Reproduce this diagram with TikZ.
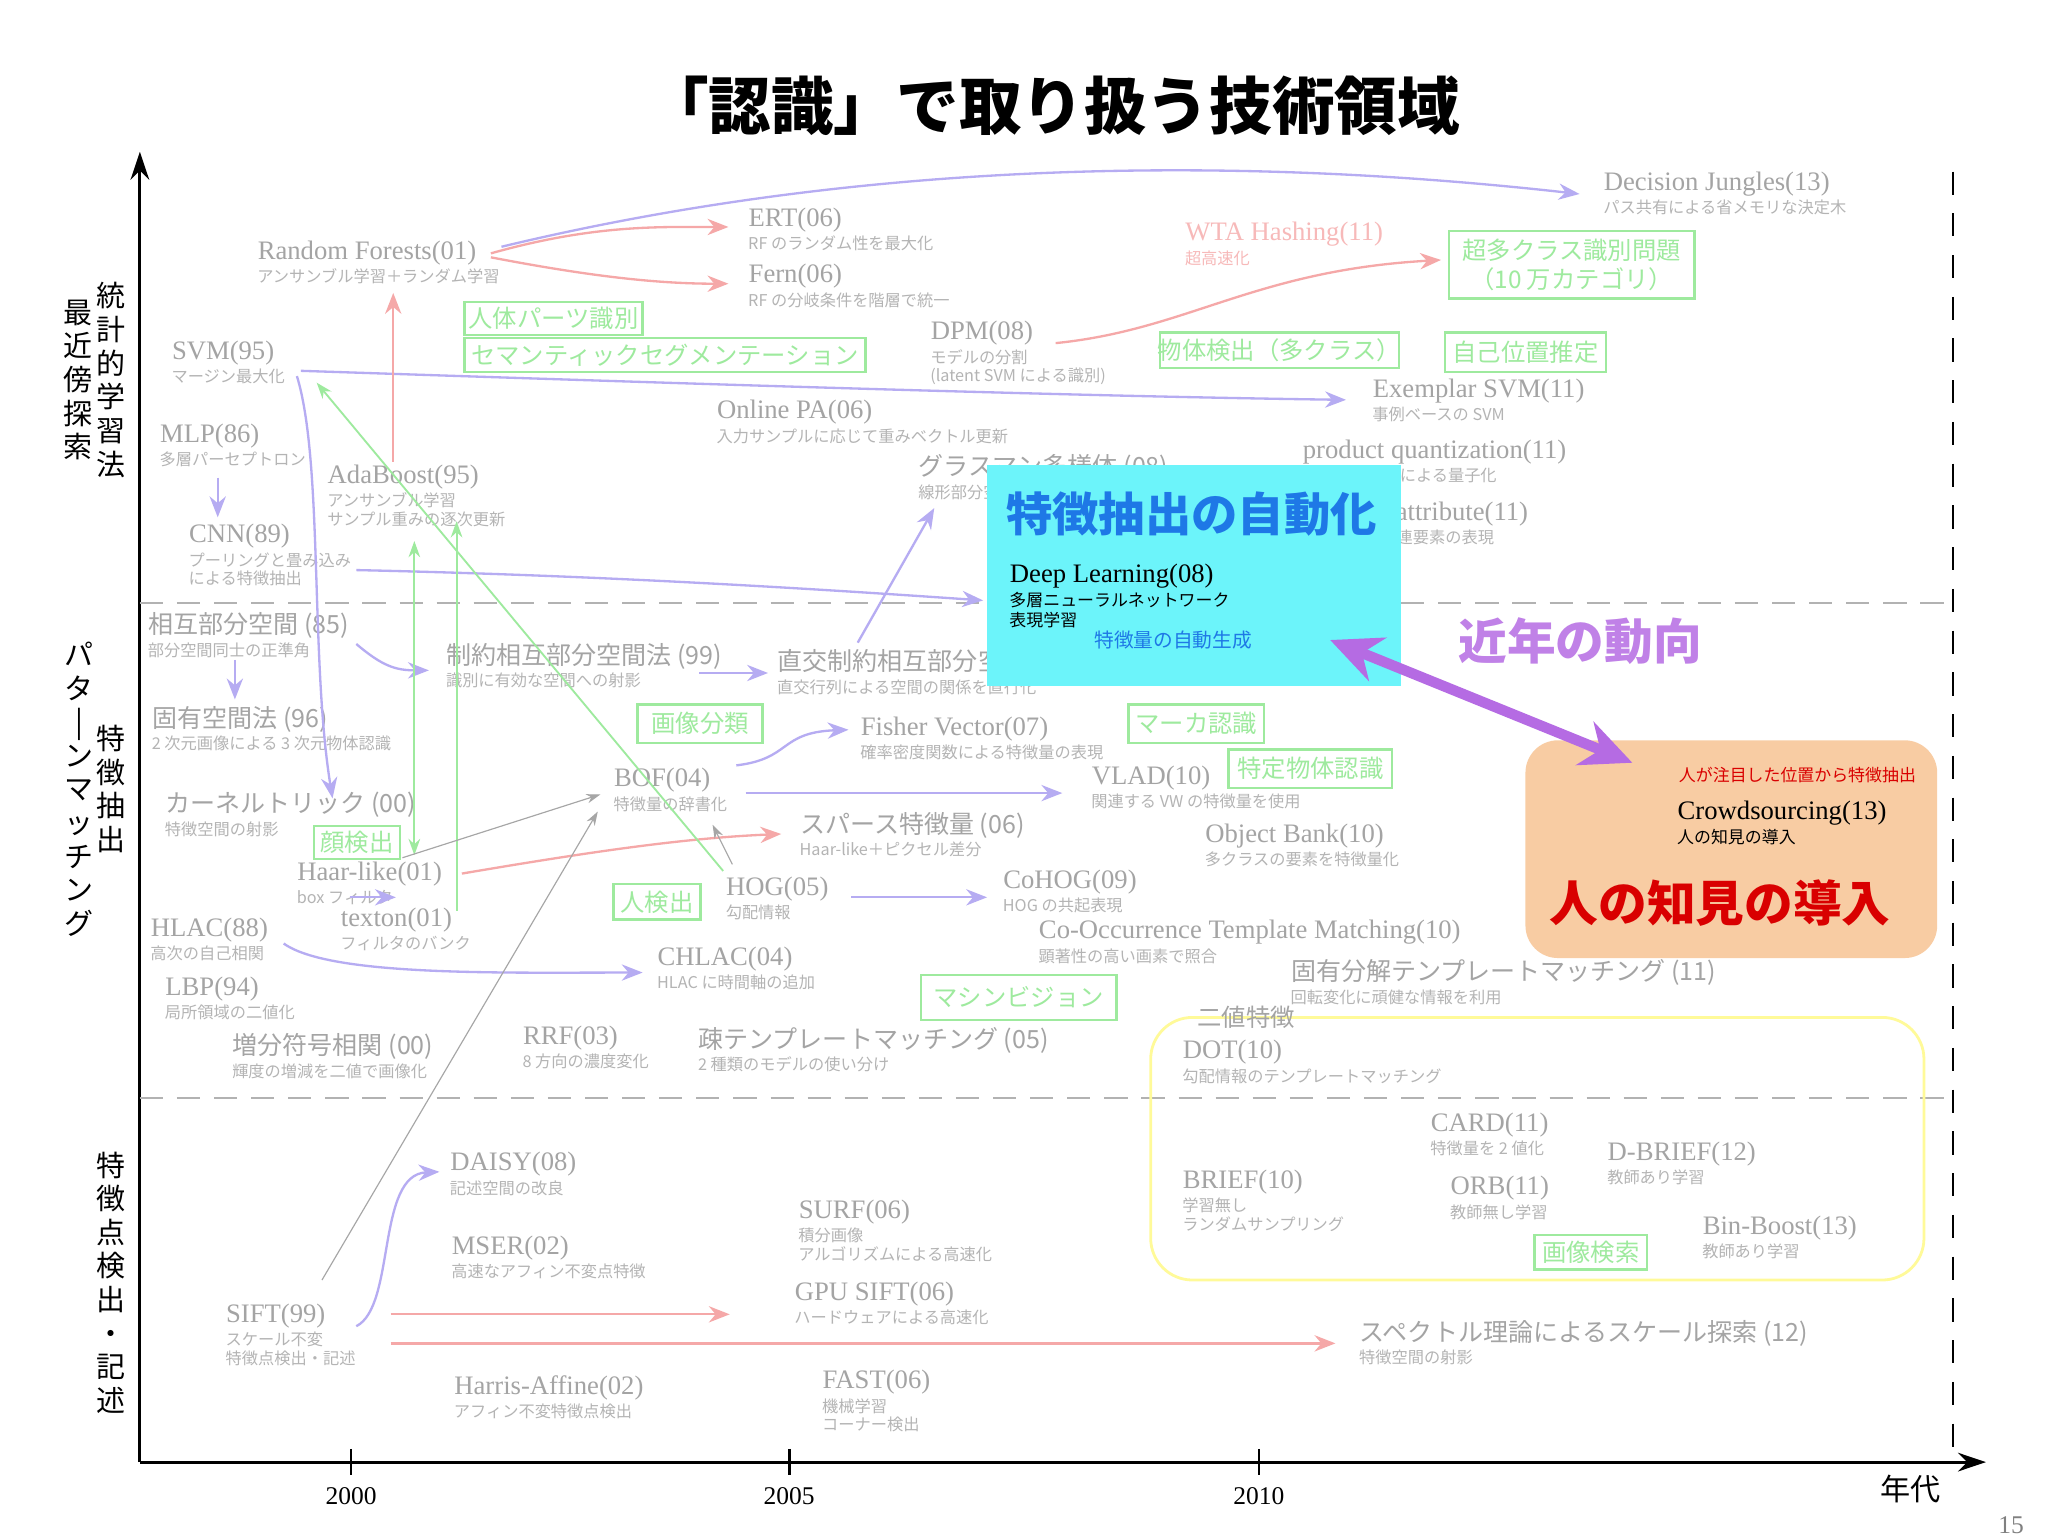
\documentclass[tikz,border=0pt]{standalone}
\usepackage{fontspec}
\setmainfont{Liberation Serif}
\newfontfamily\jp{Noto Sans CJK JP}
\usetikzlibrary{calc,arrows.meta}
\definecolor{tg}{HTML}{A4A4A4}
\definecolor{sg}{HTML}{B4B4B4}
\definecolor{gc}{HTML}{9EEA9E}
\definecolor{pc}{HTML}{B6ACF2}
\definecolor{rc}{HTML}{F5A8A8}
\definecolor{cy}{HTML}{6CF4FA}
\definecolor{bl}{HTML}{1E78E6}
\definecolor{pu}{HTML}{B56BE3}
\definecolor{org}{HTML}{F8C79A}
\newcommand\lab[5]{\node[lbl,font=\rmfamily\fontsize{11.5}{13}\selectfont] (#1) at (#2,#3) {#4}; \node[sub] (#1s) at (#1.south west) {#5};}
\newcommand\labj[5]{\node[lbl,font=\jp\fontsize{10.8}{13}\selectfont] (#1) at (#2,#3) {#4}; \node[sub] (#1s) at (#1.south west) {#5};}
\newcommand\gb[6]{\draw[gline] (#2,#3) rectangle (#4,#5); \node[gtext] (#1) at ($(#2,#3)!0.5!(#4,#5)$) {#6};}
\tikzset{
 lbl/.style={anchor=north west,inner sep=0,align=left,text=tg},
 sub/.style={anchor=north west,inner sep=0,outer sep=0,yshift=-1.5pt,align=left,text=sg,font=\jp\fontsize{7}{8}\selectfont},
 vtx/.style={align=center,inner sep=0,font=\jp\fontsize{12.5}{14.5}\selectfont},
 gline/.style={draw=gc,line width=1.1pt},
 gtext/.style={text=gc,font=\jp\fontsize{10.5}{12.5}\selectfont,align=center,inner sep=0},
 pa/.style={draw=pc,line width=1pt,-{Stealth[length=9,width=7]}},
 ra/.style={draw=rc,line width=1pt,-{Stealth[length=9,width=7]}},
 ga/.style={draw=gc,line width=0.8pt,-{Stealth[length=7,width=5]}},
 gya/.style={draw=gray!70,line width=0.5pt,-{Stealth[length=6,width=4]}},
}
\begin{document}
\begin{tikzpicture}[x=0.02cm,y=-0.02cm]
\useasboundingbox[fill=white] (0,0) rectangle (1552,1164);
\node[font=\jp\bfseries\fontsize{27}{30}\selectfont] (title) at (798,80) {「認識」で取り扱う技術領域};
% axes
\draw[line width=1.2pt,-{Stealth[length=12,width=8]}] (106,1108) -- (106,115);
\draw[line width=1.2pt,-{Stealth[length=12,width=8]}] (106,1108) -- (1505,1108);
\foreach \x/\t in {266/2000,598/2005,954/2010}{\draw[line width=1.2pt] (\x,1098)--(\x,1118); \node[font=\fontsize{11}{12}\selectfont] at (\x,1134) {\t};}
\node[font=\jp\fontsize{13}{14}\selectfont] (nd) at (1448,1128) {年代};
\node[font=\fontsize{11}{12}\selectfont,text=gray] (pg) at (1524,1156) {15};
\draw[gray!60,dash pattern=on 10pt off 6pt,line width=0.8pt] (106,457)--(1480,457) (106,832)--(1480,832);
\draw[black,dash pattern=on 10pt off 8pt,line width=1pt] (1480,130)--(1480,1108);
% vertical axis labels
\node[vtx] (v1) at (84,288) {統\\計\\的\\学\\習\\法};
\node[vtx] (v2) at (59,288) {最\\近\\傍\\探\\索};
\node[vtx] (v3) at (84,598) {特\\徴\\抽\\出};
\node[vtx] (v4) at (60,598) {パ\\タ\\|\\ン\\マ\\ッ\\チ\\ン\\グ};
\node[vtx] (v5) at (84,972) {特\\徴\\点\\検\\出\\・\\記\\述};
% labels
\lab{dj}{1215}{130}{Decision Jungles(13)}{パス共有による省メモリな決定木}
\lab{ert}{567}{157}{ERT(06)}{RF のランダム性を最大化}
\lab{fern}{567}{200}{Fern(06)}{RF の分岐条件を階層で統一}
\lab{rf}{195}{182}{Random Forests(01)}{アンサンブル学習＋ランダム学習}
\node[lbl,text=rc!80,font=\rmfamily\fontsize{11.5}{13}\selectfont] (wta) at (898,168) {WTA Hashing(11)};
\node[sub,text=rc!80] (wtas) at (wta.south west) {超高速化};
\gb{cls}{1098}{175}{1284}{226}{超多クラス識別問題\\（10 万カテゴリ）}
\gb{body}{352}{229}{487}{254}{人体パーツ識別}
\gb{seg}{352}{256}{656}{282}{セマンティックセグメンテーション}
\lab{dpm}{705}{243}{DPM(08)}{モデルの分割\\(latent SVM による識別)}
\gb{od}{879}{252}{1060}{279}{物体検出（多クラス）}
\gb{loc}{1095}{252}{1217}{282}{自己位置推定}
\lab{svm}{130}{258}{SVM(95)}{マージン最大化}
\lab{esvm}{1040}{287}{Exemplar SVM(11)}{事例ベースの SVM}
\lab{opa}{543}{303}{Online PA(06)}{入力サンプルに応じて重みベクトル更新}
\lab{mlp}{121}{321}{MLP(86)}{多層パーセプトロン}
\lab{pq}{987}{333}{product quantization(11)}{サブベクトルによる量子化}
\lab{ada}{248}{352}{AdaBoost(95)}{アンサンブル学習\\サンプル重みの逐次更新}
\labj{gr}{696}{344}{グラスマン多様体 (08)}{線形部分空間の集合体}
\lab{ra}{985}{380}{Relative attribute(11)}{属性による関連要素の表現}
\lab{cnn}{143}{397}{CNN(89)}{プーリングと畳み込み\\による特徴抽出}
\labj{msm}{112}{464}{相互部分空間 (85)}{部分空間同士の正準角}
\labj{cmsm}{338}{487}{制約相互部分空間法 (99)}{識別に有効な空間への射影}
\labj{ocmsm}{589}{492}{直交制約相互部分空間法 (06)}{直交行列による空間の関係を直行化}
\labj{eig}{115}{535}{固有空間法 (96)}{2 次元画像による 3 次元物体認識}
\gb{ic}{483}{534}{578}{563}{画像分類}
\lab{fv}{652}{543}{Fisher Vector(07)}{確率密度関数による特徴量の表現}
\gb{mk}{855}{534}{958}{563}{マーカ認識}
\gb{sor}{931}{568}{1055}{597}{特定物体認識}
\labj{ker}{125}{600}{カーネルトリック (00)}{特徴空間の射影}
\lab{bof}{465}{582}{BOF(04)}{特徴量の辞書化}
\lab{vlad}{827}{580}{VLAD(10)}{関連する VW の特徴量を使用}
\labj{sp}{606}{615}{スパース特徴量 (06)}{Haar-like＋ピクセル差分}
\lab{ob}{913}{624}{Object Bank(10)}{多クラスの要素を特徴量化}
\gb{fd}{238}{626}{303}{651}{顔検出}
\lab{haar}{225}{653}{Haar-like(01)}{box フィルタ}
\lab{hog}{550}{664}{HOG(05)}{勾配情報}
\lab{cohog}{760}{659}{CoHOG(09)}{HOG の共起表現}
\gb{pd}{465}{670}{531}{697}{人検出}
\lab{tex}{258}{688}{texton(01)}{フィルタのバンク}
\lab{hlac}{114}{695}{HLAC(88)}{高次の自己相関}
\lab{cotm}{787}{697}{Co-Occurrence Template Matching(10)}{顕著性の高い画素で照合}
\lab{chlac}{498}{717}{CHLAC(04)}{HLAC に時間軸の追加}
\labj{eigtm}{978}{727}{固有分解テンプレートマッチング (11)}{回転変化に頑健な情報を利用}
\lab{lbp}{125}{740}{LBP(94)}{局所領域の二値化}
\gb{mv}{698}{739}{846}{773}{マシンビジョン}
\draw[draw=yellow!40,line width=1.2pt,rounded corners=18pt] (872,771) rectangle (1458,970);
\node[lbl,font=\jp\fontsize{10.5}{12}\selectfont] (bin) at (907,762) {二値特徴};
\lab{dot}{896}{788}{DOT(10)}{勾配情報のテンプレートマッチング}
\labj{isc}{176}{783}{増分符号相関 (00)}{輝度の増減を二値で画像化}
\lab{rrf}{396}{777}{RRF(03)}{8 方向の濃度変化}
\labj{stm}{529}{778}{疎テンプレートマッチング (05)}{2 種類のモデルの使い分け}
\lab{card}{1084}{843}{CARD(11)}{特徴量を 2 値化}
\lab{dbrief}{1218}{865}{D-BRIEF(12)}{教師あり学習}
\lab{daisy}{341}{873}{DAISY(08)}{記述空間の改良}
\lab{brief}{896}{886}{BRIEF(10)}{学習無し\\ランダムサンプリング}
\lab{orb}{1099}{891}{ORB(11)}{教師無し学習}
\lab{surf}{605}{909}{SURF(06)}{積分画像\\アルゴリズムによる高速化}
\lab{mser}{342}{936}{MSER(02)}{高速なアフィン不変点特徴}
\lab{bb}{1290}{921}{Bin-Boost(13)}{教師あり学習}
\gb{ir}{1163}{936}{1248}{962}{画像検索}
\lab{gpu}{602}{971}{GPU SIFT(06)}{ハードウェアによる高速化}
\lab{sift}{171}{988}{SIFT(99)}{スケール不変\\特徴点検出・記述}
\labj{spec}{1030}{1000}{スペクトル理論によるスケール探索 (12)}{特徴空間の射影}
\lab{ha}{344}{1042}{Harris-Affine(02)}{アフィン不変特徴点検出}
\lab{fast}{623}{1038}{FAST(06)}{機械学習\\コーナー検出}
% arrows
\draw[pa] (380,187) .. controls (700,110) and (1000,125) .. (1197,147);
\draw[pa] (228,281) .. controls (500,290) and (800,300) .. (1020,303);
\draw[pa] (225,285) .. controls (245,350) and (235,500) .. (252,605);
\draw[pa] (165,362) -- (165,392);
\draw[pa] (270,432) .. controls (450,436) and (600,445) .. (745,455);
\draw[pa] (178,500) -- (178,530);
\draw[pa] (270,488) .. controls (290,505) and (300,508) .. (325,508);
\draw[pa] (530,510) -- (582,510);
\draw[pa] (650,487) -- (708,385);
\draw[pa] (558,580) .. controls (600,575) and (590,555) .. (643,553);
\draw[pa] (565,601) -- (805,601);
\draw[pa] (645,680) -- (748,680);
\draw[pa] (265,680) -- (300,680);
\draw[pa] (215,715) .. controls (250,740) and (380,737) .. (487,737);
\draw[pa] (270,1005) .. controls (300,990) and (285,890) .. (333,888);
\draw[ra] (372,192) .. controls (450,170) and (500,172) .. (552,172);
\draw[ra] (372,195) .. controls (450,210) and (500,215) .. (552,215);
\draw[ra] (298,350) -- (298,222);
\draw[ra] (800,260) .. controls (900,250) and (950,205) .. (1092,197);
\draw[ra] (350,662) .. controls (450,645) and (520,635) .. (592,632);
\draw[ra] (296,996) -- (553,996);
\draw[ra] (296,1018) -- (1012,1018);
\draw[ga] (548,660) -- (240,290);
\draw[ga,{Stealth[length=7,width=5]}-{Stealth[length=7,width=5]}] (314,410) -- (314,648);
\draw[ga] (346,690) -- (346,395);
\draw[gya] (305,650) -- (455,602);
\draw[gya] (244,970) -- (453,615);
\draw[gya] (555,655) -- (540,625);
% cyan box
\fill[cy] (748,352) rectangle (1062,520);
\node[lbl,text=bl,font=\jp\bfseries\fontsize{20}{23}\selectfont] (auto) at (762,372) {特徴抽出の自動化};
\node[lbl,text=black,font=\rmfamily\fontsize{11.5}{13}\selectfont] (dl) at (765,427) {Deep Learning(08)};
\node[sub,text=black,font=\jp\fontsize{7.3}{8.5}\selectfont] (dls) at (dl.south west) {多層ニューラルネットワーク\\表現学習};
\node[lbl,text=bl,font=\jp\fontsize{8.5}{10}\selectfont] (gen) at (829,478) {特徴量の自動生成};
% orange box
\fill[org,opacity=0.9,rounded corners=14pt] (1156,561) rectangle (1468,726);
\node[lbl,text=red!85!black,font=\jp\fontsize{7.3}{9}\selectfont] (att) at (1272,581) {人が注目した位置から特徴抽出};
\node[lbl,text=black,font=\rmfamily\fontsize{11.5}{13}\selectfont] (cs) at (1271,607) {Crowdsourcing(13)};
\node[sub,text=black,font=\jp\fontsize{7.3}{8.5}\selectfont] (css) at (cs.south west) {人の知見の導入};
\node[lbl,text=red!85!black,font=\jp\bfseries\fontsize{21}{24}\selectfont] (hk) at (1174,666) {人の知見の導入};
% trend
\node[lbl,text=pu!85,font=\jp\bfseries\fontsize{21}{24}\selectfont] (trend) at (1105,468) {近年の動向};
\draw[pu,line width=4.5pt,{Stealth[length=22,width=20]}-{Stealth[length=22,width=20]}] (1008,485) -- (1237,578);
\end{tikzpicture}
\end{document}
